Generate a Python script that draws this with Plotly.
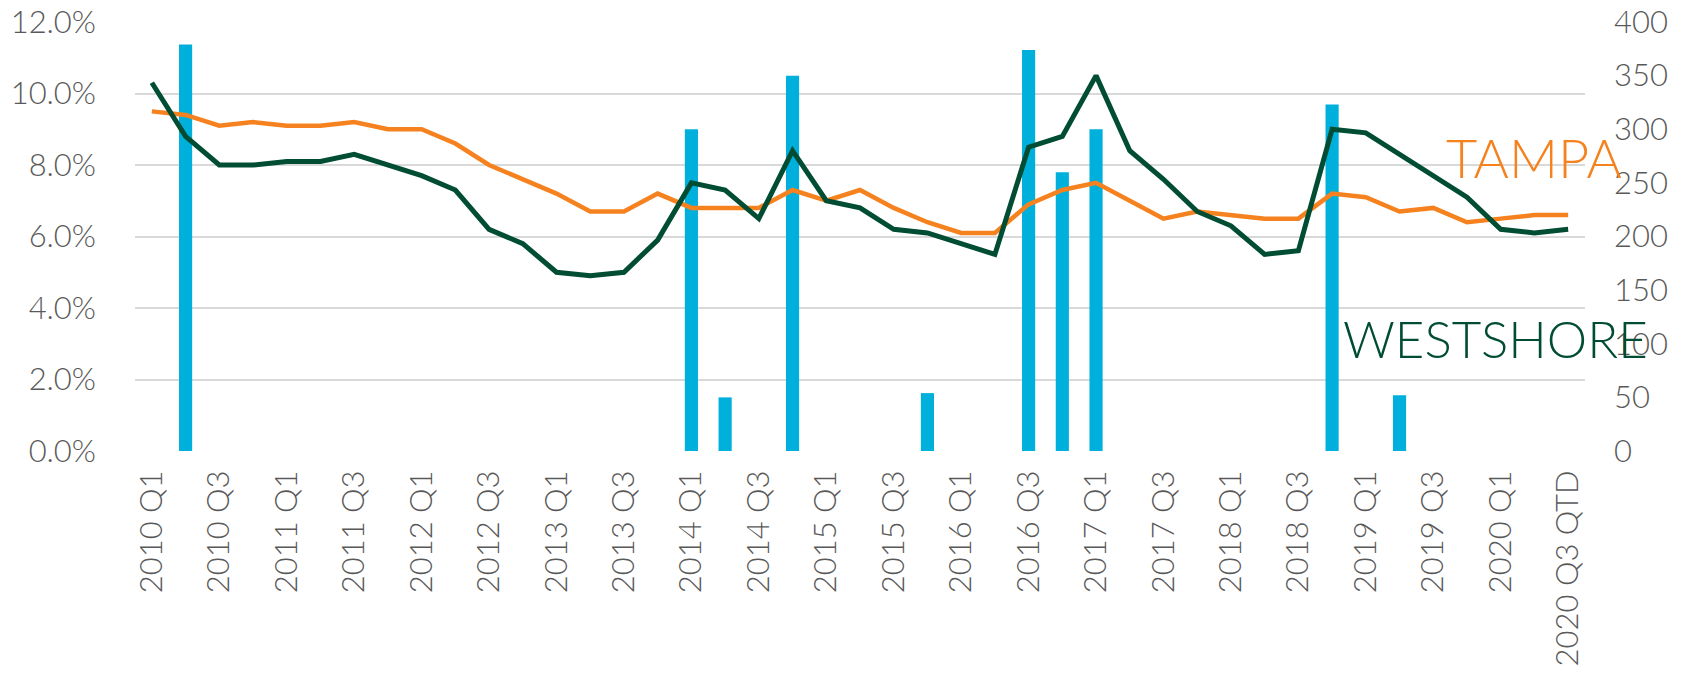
import plotly.graph_objects as go

# Quarterly categories, 2010 Q1 through 2020 Q3 (quarter to date)
quarters = [f"{y} Q{q}" for y in range(2010, 2021) for q in range(1, 5)][:43]
quarters[-1] = "2020 Q3 QTD"

# Vacancy rates (%)
tampa = [9.5, 9.4, 9.1, 9.2, 9.1, 9.1, 9.2, 9.0, 9.0, 8.6,
         8.0, 7.6, 7.2, 6.7, 6.7, 7.2, 6.8, 6.8, 6.8, 7.3,
         7.0, 7.3, 6.8, 6.4, 6.1, 6.1, 6.9, 7.3, 7.5, 7.0,
         6.5, 6.7, 6.6, 6.5, 6.5, 7.2, 7.1, 6.7, 6.8, 6.4,
         6.5, 6.6, 6.6]
westshore = [10.3, 8.8, 8.0, 8.0, 8.1, 8.1, 8.3, 8.0, 7.7, 7.3,
             6.2, 5.8, 5.0, 4.9, 5.0, 5.9, 7.5, 7.3, 6.5, 8.4,
             7.0, 6.8, 6.2, 6.1, 5.8, 5.5, 8.5, 8.8, 10.5, 8.4,
             7.6, 6.7, 6.3, 5.5, 5.6, 9.0, 8.9, 8.3, 7.7, 7.1,
             6.2, 6.1, 6.2]

# Units delivered per quarter (right axis)
deliveries = [None] * 43
for idx, val in {1: 379, 16: 300, 17: 50, 19: 350, 23: 54,
                 26: 374, 27: 260, 28: 300, 35: 323, 37: 52}.items():
    deliveries[idx] = val

left_ticks = [0, 2, 4, 6, 8, 10, 12]
right_ticks = [0, 50, 100, 150, 200, 250, 300, 350, 400]

FONT = "Lato"
GREY = "#595959"
ORANGE = "#F5821F"
GREEN = "#004D33"
CYAN = "#00B0DC"
TICKFONT = dict(family=FONT, size=31, color=GREY, weight=300)

fig = go.Figure()

# Bars on the primary (right-side) axis so the lines render above them
fig.add_trace(go.Bar(x=quarters, y=deliveries, marker_color=CYAN,
                     marker_line_width=0, yaxis="y", name="Deliveries"))
fig.add_trace(go.Scatter(x=quarters, y=tampa, mode="lines", yaxis="y2",
                         line=dict(color=ORANGE, width=4.5), name="TAMPA"))
fig.add_trace(go.Scatter(x=quarters, y=westshore, mode="lines", yaxis="y2",
                         line=dict(color=GREEN, width=5), name="WESTSHORE"))

fig.update_layout(
    width=1682, height=674,
    margin=dict(l=135, r=97, t=22, b=223),
    paper_bgcolor="white", plot_bgcolor="white",
    showlegend=False,
    bargap=0.61,
    font=dict(family=FONT, color=GREY, size=31),
    xaxis=dict(
        type="category", automargin=False,
        categoryorder="array", categoryarray=quarters,
        tickvals=quarters[::2], ticktext=quarters[::2],
        tickangle=-90,
        tickfont=TICKFONT,
        showgrid=False, showline=False, zeroline=False,
        ticks="outside", ticklen=6, tickcolor="rgba(0,0,0,0)",
    ),
    yaxis=dict(
        side="right", range=[0, 400], tickvals=right_ticks, automargin=False,
        showgrid=False, zeroline=False, showline=False,
        tickfont=TICKFONT,
        ticklabelstandoff=28,
    ),
    yaxis2=dict(
        overlaying="y", side="left", range=[0, 12], tickvals=left_ticks,
        ticktext=[f"{v:.1f}%" for v in left_ticks], automargin=False,
        showgrid=True, gridcolor="#D9D9D9", gridwidth=2,
        zeroline=False, showline=False,
        tickfont=TICKFONT,
        ticklabelstandoff=38,
    ),
    annotations=[
        dict(text="TAMPA", xref="paper", yref="paper", x=0.903, y=0.685,
             xanchor="left", yanchor="middle", showarrow=False,
             font=dict(family=FONT, size=54, color=ORANGE, weight=300)),
        dict(text="WESTSHORE", xref="paper", yref="paper", x=0.8315, y=0.262,
             xanchor="left", yanchor="middle", showarrow=False,
             font=dict(family=FONT, size=51, color=GREEN, weight=300)),
    ],
)

fig.write_html("out.html")
